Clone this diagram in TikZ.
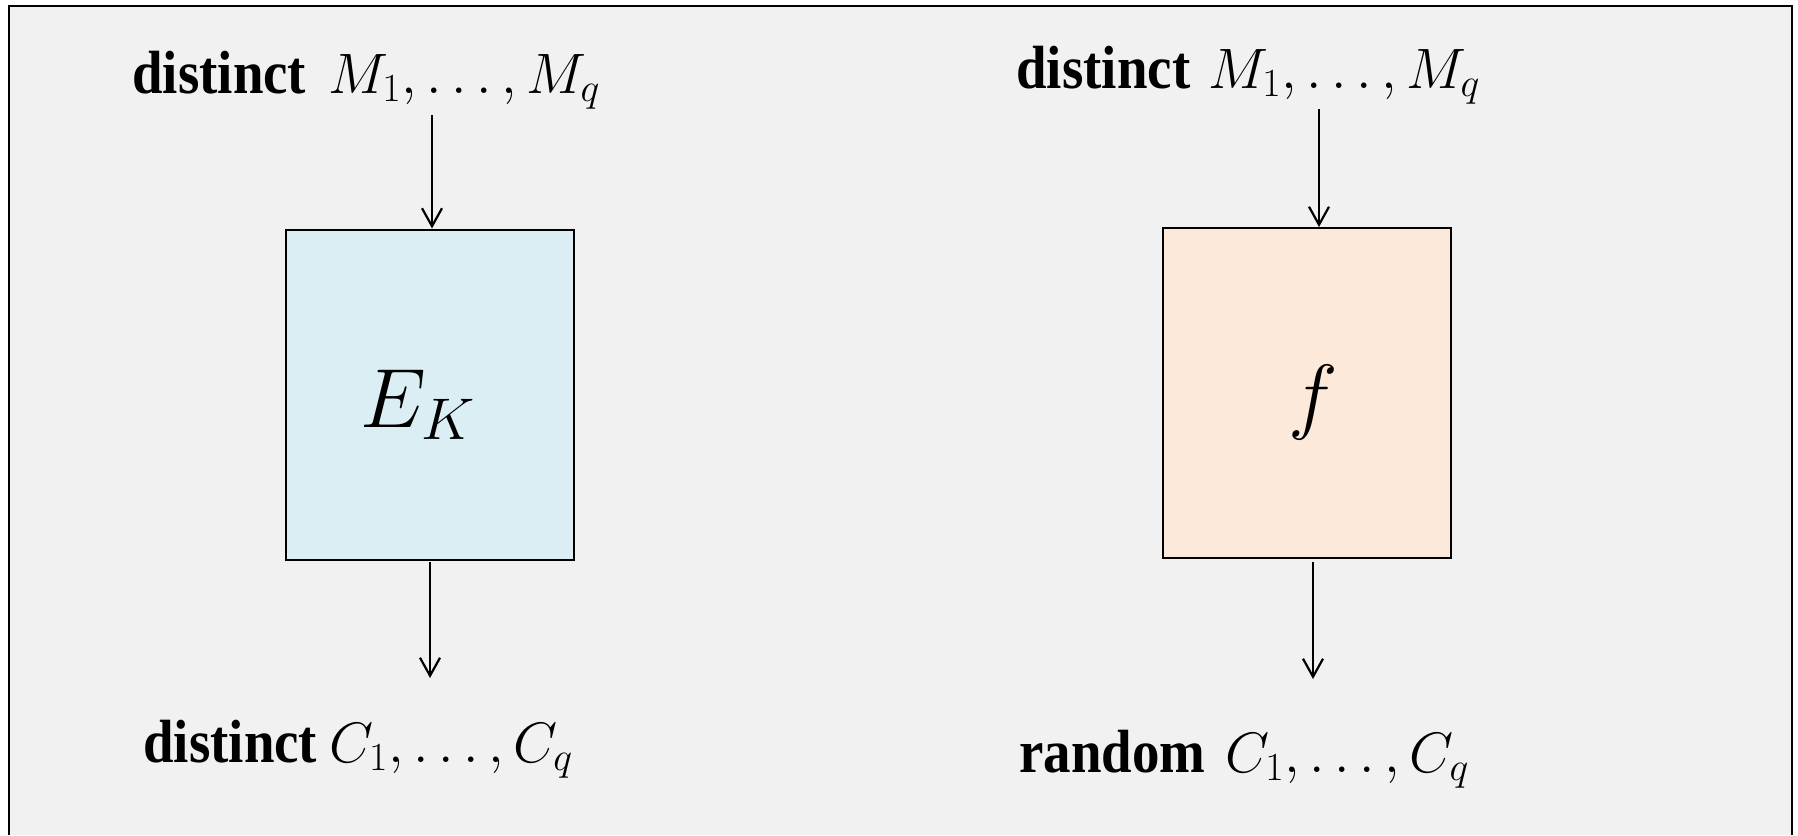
\RequirePackage{fix-cm}
\documentclass[tikz,border=0pt]{standalone}
\usepackage[no-math]{fontspec}
\newfontfamily\lblfont[FakeStretch=0.9]{Liberation Serif}
\usetikzlibrary{arrows.meta}
\definecolor{bgcol}{HTML}{F1F1F1}
\definecolor{boxblue}{HTML}{DAEEF3}
\definecolor{boxpeach}{HTML}{FDE9D9}
\tikzset{
  framestyle/.style={line width=1pt, draw=black},
  blk/.style={draw=black, line width=1pt, minimum width=144pt, minimum height=165pt, inner sep=0pt},
  txt/.style={inner sep=0pt, font=\lblfont\bfseries\fontsize{30.5}{36}\selectfont},
  big/.style={inner sep=0pt, font=\fontsize{42}{50}\selectfont},
  arr/.style={line width=1.1pt, -{Straight Barb[length=9pt,width=10pt,line width=1.1pt]}}
}
\begin{document}
\begin{tikzpicture}[x=0.5pt,y=-0.5pt]
\useasboundingbox (0,0) rectangle (1798,835);
\fill[bgcol] (9,6) rectangle (1792,835);
\draw[framestyle] (9,835) -- (9,6) -- (1792,6) -- (1792,835);

% boxes
\node[blk, fill=boxblue] (boxL) at (429.5,394.5) {};
\node[blk, fill=boxpeach] (boxR) at (1307,393) {};
\node[big, anchor=base west] (EK) at (360,427) {$E_K$};
\node[big, anchor=base] (fR) at (1313,423) {$f$};

% labels
\node[txt, anchor=base west] (inL) at (132,93) {distinct\hspace{11pt}{\fontsize{28.5}{34}\selectfont$M_1,\ldots,M_q$}};
\node[txt, anchor=base west] (outL) at (143,762) {distinct\hspace{6pt}{\fontsize{28.5}{34}\selectfont$C_1,\ldots,C_q$}};
\node[txt, anchor=base west] (inR) at (1016,88) {distinct\hspace{9pt}{\fontsize{28.5}{34}\selectfont$M_1,\ldots,M_q$}};
\node[txt, anchor=base west] (outR) at (1019,772) {random\hspace{10pt}{\fontsize{28.5}{34}\selectfont$C_1,\ldots,C_q$}};

% connectors
\coordinate (aLs) at (432,115);
\draw[arr] (aLs) -- (aLs |- boxL.north);
\coordinate (bLs) at (430,562);
\coordinate (bLe) at (430,678);
\draw[arr] (bLs) -- (bLe);
\coordinate (aRs) at (1319,109);
\draw[arr] (aRs) -- (aRs |- boxR.north);
\coordinate (bRs) at (1313,562);
\coordinate (bRe) at (1313,679);
\draw[arr] (bRs) -- (bRe);
\end{tikzpicture}
\end{document}
